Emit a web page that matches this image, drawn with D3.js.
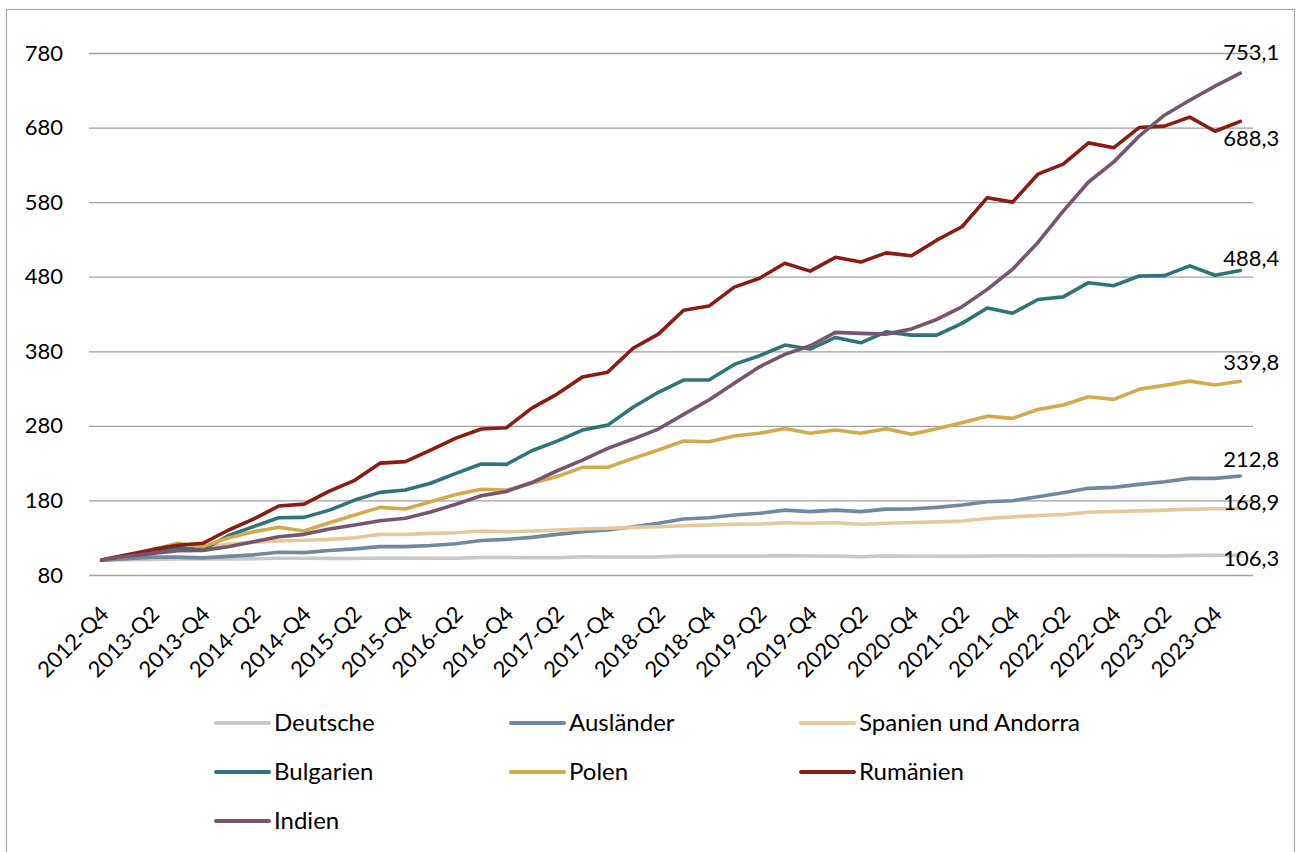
<!DOCTYPE html>
<html><head><meta charset="utf-8">
<script src="https://cdn.jsdelivr.net/npm/d3@7"></script>
<style>
html,body{margin:0;padding:0;background:#fff;}
svg{display:block;}
text{font-family:Lato,"Open Sans",sans-serif;fill:#000;}
</style></head>
<body>
<svg id="chart" width="1296" height="852"></svg>
<script>
const quarters = ["2012-Q4","2013-Q1","2013-Q2","2013-Q3","2013-Q4","2014-Q1","2014-Q2","2014-Q3","2014-Q4","2015-Q1",
"2015-Q2","2015-Q3","2015-Q4","2016-Q1","2016-Q2","2016-Q3","2016-Q4","2017-Q1","2017-Q2","2017-Q3",
"2017-Q4","2018-Q1","2018-Q2","2018-Q3","2018-Q4","2019-Q1","2019-Q2","2019-Q3","2019-Q4","2020-Q1",
"2020-Q2","2020-Q3","2020-Q4","2021-Q1","2021-Q2","2021-Q3","2021-Q4","2022-Q1","2022-Q2","2022-Q3",
"2022-Q4","2023-Q1","2023-Q2","2023-Q3","2023-Q4","2024-Q1"];

const deutsche = [100,100.5,101,101.5,101.5,101.5,101.8,102.5,102.5,102.3,102.2,102.8,102.6,102.5,102.5,103.5,103.5,103.2,103.2,104.5,104.2,104.2,104.3,105.5,105.3,105.3,105.3,106,105.4,105.3,104.5,105.6,105.2,105.2,105,105.5,105.6,105.5,105.6,106,106,105.6,105.4,106.3,106.5,106.3];
const auslaender = [100,102,104,104,103,105,107,110.5,110,112.8,115,118,118,119.5,122,126.3,127.8,130.5,134.5,138,140.3,144.8,149.3,155,156.8,160.4,162.7,167,165,167,165,168.3,168.5,170.7,173.8,178.3,179.6,185,190.3,196.2,197.5,201.5,205,209.6,209.6,212.8];
const spanien = [100,105,110,114,116,121.5,123.8,125.6,126.5,127.8,130,134.5,134.5,135.8,136.7,139,138,139,140.3,141.7,142.6,143.9,144.8,146,147,148,148.4,150,149.3,150,148,149.3,150.5,151.2,152.5,155.8,158,159.8,161.2,164.2,165.2,166,167,168.2,168.9,168.9];
const bulgarien = [100,106,111,117,113.5,132.7,144.8,156.8,157.3,167,180.5,190.8,194,203,216.3,228.8,228.4,246.6,259.6,274.4,281,305,325,341.4,341.4,362.4,374,388.3,383,398.6,391.4,406,401.7,401.7,417.4,438,431,449.5,453,472,468,481,481.5,494.6,482,488.4];
const polen = [100,106,114,122.5,118,129.6,138,144,139,150,160.4,170.7,168.5,178.3,188,195,194,203,212,224.4,224.4,236.4,247.6,259.6,258.7,266.3,270,276.6,270,274.4,270,276.2,268.6,276,284.3,293,290,302,308,319,315.5,329,334.3,340,334.7,339.8];
const rumaenien = [100,107,114,120,122.5,140,155,172.5,175,192.6,207,230,232,247.6,263.6,275.7,277.5,303.8,322.6,345.4,352,384,403,435,440.6,466,478,498,487.5,506,499.6,512,508,529,547,586,580,617.5,631,659.5,653,680,682,694,675,688.3];
const indien = [100,105,109,112.6,113,118,124.6,131.3,134.5,141.7,147,152.8,156,164.4,175,186.3,192,204,219.8,234,249.8,262.3,275.7,295.4,314.6,337,359.2,375.8,387.4,405.3,404,403,410,422.7,439.7,463,490,526,568,607,634,668.5,696.6,716.7,735.5,753.1];

const seriesNames = ["Deutsche","Ausländer","Spanien und Andorra","Bulgarien","Polen","Rumänien","Indien"];
const seriesValues = [deutsche, auslaender, spanien, bulgarien, polen, rumaenien, indien];
const seriesColors = ["#c8c8c8","#7189a0","#e6c99b","#2f7479","#d3aa4c","#8c1b12","#775470"];
const yTicks = [80,180,280,380,480,580,680,780];
// label offsets (px) for end-of-line value labels
const labelDy = [3,-17,-6,-12,-19,17,-21];
const endLabels = ["106,3","212,8","168,9","488,4","339,8","688,3","753,1"];

const svg = d3.select("#chart");

// outer frame
svg.append("rect").attr("x",6.5).attr("y",9.5).attr("width",1288).attr("height",860)
  .attr("fill","none").attr("stroke","#a6a6a6").attr("stroke-width",1.2);

const plotL = 89, plotR = 1253, plotT = 53, plotB = 575;
const x = d3.scalePoint().domain(quarters).range([plotL, plotR]).padding(0.5);
const y = d3.scaleLinear().domain([80,780]).range([plotB, plotT]);

// gridlines + y labels
const yAxis = d3.axisLeft(y).tickValues(yTicks).tickSize(-(plotR-plotL)).tickFormat(d=>d).tickPadding(26);
const gy = svg.append("g").attr("transform",`translate(${plotL},0)`).call(yAxis);
gy.select(".domain").remove();
gy.selectAll(".tick line").attr("stroke","#a0a0a0").attr("stroke-width",1.3);
gy.selectAll(".tick text").attr("font-size",22).attr("font-family","Lato, sans-serif").attr("fill","#000");

// x labels
const xLabelQuarters = quarters.filter((q,i)=>i%2===0);
const gx = svg.append("g");
gx.selectAll("text").data(xLabelQuarters).enter().append("text")
  .attr("transform", d=>`translate(${x(d)+3},${610}) rotate(-45)`)
  .attr("text-anchor","end").attr("dy","0.35em").attr("font-size",22)
  .text(d=>d);

// lines
const line = d3.line().x((d,i)=>x(quarters[i])).y(d=>y(d));
const gl = svg.append("g");
seriesValues.forEach((vals, k) => {
  gl.append("path").datum(vals).attr("d", line)
    .attr("fill","none").attr("stroke", seriesColors[k]).attr("stroke-width",3.6)
    .attr("stroke-linejoin","round").attr("stroke-linecap","round");
});

// end labels
seriesValues.forEach((vals,k)=>{
  const last = quarters[quarters.length-1];
  svg.append("text").attr("x", x(last)-17).attr("y", y(vals[vals.length-1]) + labelDy[k])
    .attr("dy","0.35em").attr("font-size",22).text(endLabels[k]);
});

// legend
const legCols = [216, 511, 801];
const legRows = [723, 772, 821];
const gLeg = svg.append("g");
seriesNames.forEach((name,k)=>{
  const cx = legCols[k%3], cy = legRows[Math.floor(k/3)];
  gLeg.append("line").attr("x1",cx).attr("x2",cx+53).attr("y1",cy).attr("y2",cy)
    .attr("stroke",seriesColors[k]).attr("stroke-width",4).attr("stroke-linecap","round");
  gLeg.append("text").attr("x",cx+58).attr("y",cy).attr("dy","0.35em").attr("font-size",24).text(name);
});
</script>
</body></html>
